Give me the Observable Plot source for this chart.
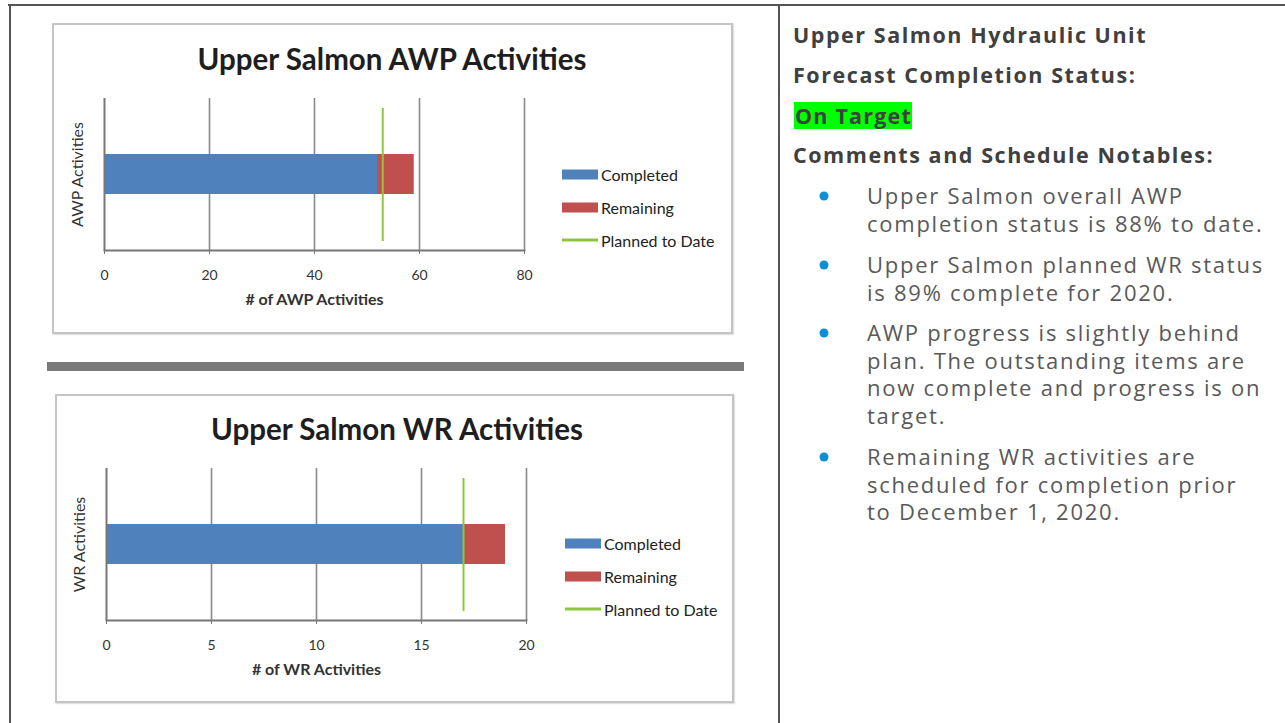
<!DOCTYPE html>
<html>
<head>
<meta charset="utf-8">
<script src="https://cdn.jsdelivr.net/npm/d3@7"></script>
<script src="https://cdn.jsdelivr.net/npm/@observablehq/plot@0.6"></script>
<style>
  html, body { margin: 0; padding: 0; background: #fff; }
  #page { position: relative; width: 1285px; height: 723px; overflow: hidden; background: #fff; }
  .line { position: absolute; background: #555; }
  .box { position: absolute; box-sizing: border-box; border: 2px solid #c4c4c4; box-shadow: 1px 1px 1px #e2e2e2; background: #fff; }
  .ctitle { position: absolute; font-family: Lato, "Open Sans", sans-serif; font-weight: bold; font-size: 29.5px; color: #1e1e1e; white-space: nowrap; transform: translate(-50%, -50%); }
  .leg { position: absolute; font-family: Lato, sans-serif; font-size: 16px; color: #222; white-space: nowrap; display: flex; align-items: center; transform: translateY(-50%); }
  .sw { display: inline-block; width: 36px; height: 10px; margin-right: 3px; }
  .swl { display: inline-block; width: 36px; height: 3px; margin-right: 3px; }
  .hd { position: absolute; left: 793px; font-family: "Open Sans", sans-serif; font-weight: bold; font-size: 21.5px; letter-spacing: 1.55px; color: #404040; line-height: 40px; white-space: nowrap; }
  .para { position: absolute; left: 867px; font-family: "Open Sans", sans-serif; font-size: 22px; letter-spacing: 1.75px; color: #595959; line-height: 27.5px; white-space: nowrap; }
  .dot { position: absolute; width: 9px; height: 9px; border-radius: 50%; background: #0b8fd8; transform: translate(-50%, -50%); }
</style>
</head>
<body>
<div id="page"></div>
<script>
// ---- data ----
const statuses = ["Completed", "Remaining"];
const statusColors = ["#4F81BD", "#C0504D"];
const plannedColor = "#8CC63F";
const plannedLabel = "Planned to Date";

const awpTitle = "Upper Salmon AWP Activities";
const awpCategory = "AWP Activities";
const awpAxisTitle = "# of AWP Activities";
const awpValues = [52, 7];
const awpPlanned = [53];
const awpTicks = [0, 20, 40, 60, 80];

const wrTitle = "Upper Salmon WR Activities";
const wrCategory = "WR Activities";
const wrAxisTitle = "# of WR Activities";
const wrValues = [17, 2];
const wrPlanned = [17];
const wrTicks = [0, 5, 10, 15, 20];

const headers = ["Upper Salmon Hydraulic Unit", "Forecast Completion Status:", "On Target", "Comments and Schedule Notables:"];
const notes = [
  ["Upper Salmon overall AWP", "completion status is 88% to date."],
  ["Upper Salmon planned WR status", "is 89% complete for 2020."],
  ["AWP progress is slightly behind", "plan. The outstanding items are", "now complete and progress is on", "target."],
  ["Remaining WR activities are", "scheduled for completion prior", "to December 1, 2020."]
];

// ---- layout ----
const page = document.getElementById("page");
function el(cls, css, html) {
  const d = document.createElement("div");
  d.className = cls;
  Object.assign(d.style, css);
  if (html != null) d.innerHTML = html;
  page.appendChild(d);
  return d;
}

// table borders
el("line", {left: "8px", top: "4px", width: "1277px", height: "2px"});
el("line", {left: "9px", top: "4px", width: "2px", height: "719px"});
el("line", {left: "778px", top: "4px", width: "2px", height: "719px"});
// separator
el("line", {left: "47px", top: "362px", width: "697px", height: "9px", background: "#7a7a7a"});

function chart({box, titleX, titleY, title, category, axisTitle, values, planned, ticks, svgLeft, svgTop, legendX, legendY}) {
  el("box", {left: box[0] + "px", top: box[1] + "px", width: box[2] + "px", height: box[3] + "px"});
  el("ctitle", {left: titleX + "px", top: titleY + "px"}, title);
  const data = statuses.map((s, i) => ({status: s, value: values[i], cat: category}));
  const svg = Plot.plot({
    width: 476, height: 227,
    marginLeft: 44, marginRight: 12, marginTop: 10, marginBottom: 65,
    style: {fontFamily: "Lato, sans-serif", fontSize: "14px", color: "#333", background: "transparent"},
    x: {domain: [ticks[0], ticks[ticks.length - 1]]},
    y: {domain: [category], padding: 0.58, axis: null},
    color: {domain: statuses, range: statusColors},
    marks: [
      Plot.ruleX(ticks.slice(1), {stroke: "#8a8a8a", strokeWidth: 1.6}),
      Plot.barX(data, Plot.stackX({x: "value", y: "cat", fill: "status"})),
      Plot.ruleX(planned, {stroke: plannedColor, strokeWidth: 2, insetTop: 10, insetBottom: 9}),
      Plot.ruleX([ticks[0]], {stroke: "#777", strokeWidth: 2}),
      Plot.frame({anchor: "bottom", stroke: "#777", strokeWidth: 2}),
      Plot.axisX({ticks, tickSize: 4, tickPadding: 16, stroke: "#777", label: null, fontSize: 14, fill: "#333"}),
      Plot.text([axisTitle], {frameAnchor: "bottom", dy: 54, fontWeight: "bold", fontSize: 16, fill: "#333"}),
      Plot.text([category], {frameAnchor: "left", textAnchor: "middle", dx: -27, rotate: -90, fontSize: 16, fill: "#333"})
    ]
  });
  svg.style.position = "absolute";
  svg.style.left = svgLeft + "px";
  svg.style.top = svgTop + "px";
  page.appendChild(svg);
  // legend
  statuses.forEach((s, i) => {
    el("leg", {left: legendX + "px", top: (legendY + i * 33) + "px"},
      `<span class="sw" style="background:${statusColors[i]}"></span>${s}`);
  });
  el("leg", {left: legendX + "px", top: (legendY + 66) + "px"},
    `<span class="swl" style="background:${plannedColor}"></span>${plannedLabel}`);
}

chart({box: [52, 23, 681, 311], titleX: 392, titleY: 58, title: awpTitle, category: awpCategory,
  axisTitle: awpAxisTitle, values: awpValues, planned: awpPlanned, ticks: awpTicks,
  svgLeft: 60, svgTop: 88, legendX: 562, legendY: 174});
chart({box: [55, 394, 679, 309], titleX: 397, titleY: 428, title: wrTitle, category: wrCategory,
  axisTitle: wrAxisTitle, values: wrValues, planned: wrPlanned, ticks: wrTicks,
  svgLeft: 62, svgTop: 458, legendX: 565, legendY: 543});

// right panel text
const hdY = [35, 75, 115, 155];
headers.forEach((h, i) => {
  const d = el("hd", {top: (hdY[i] - 20) + "px"}, h);
  if (i === 2) {
    Object.assign(d.style, {background: "#00FF00", lineHeight: "27px", top: (hdY[i] - 13.5) + "px", left: "794px", padding: "0 0 0 1px", letterSpacing: "1.2px"});
  }
});
const noteY = [196, 265, 333, 457];
notes.forEach((lines, i) => {
  el("dot", {left: "824px", top: noteY[i] + "px"});
  el("para", {top: (noteY[i] - 13.75) + "px"}, lines.join("<br>"));
});
</script>
</body>
</html>
